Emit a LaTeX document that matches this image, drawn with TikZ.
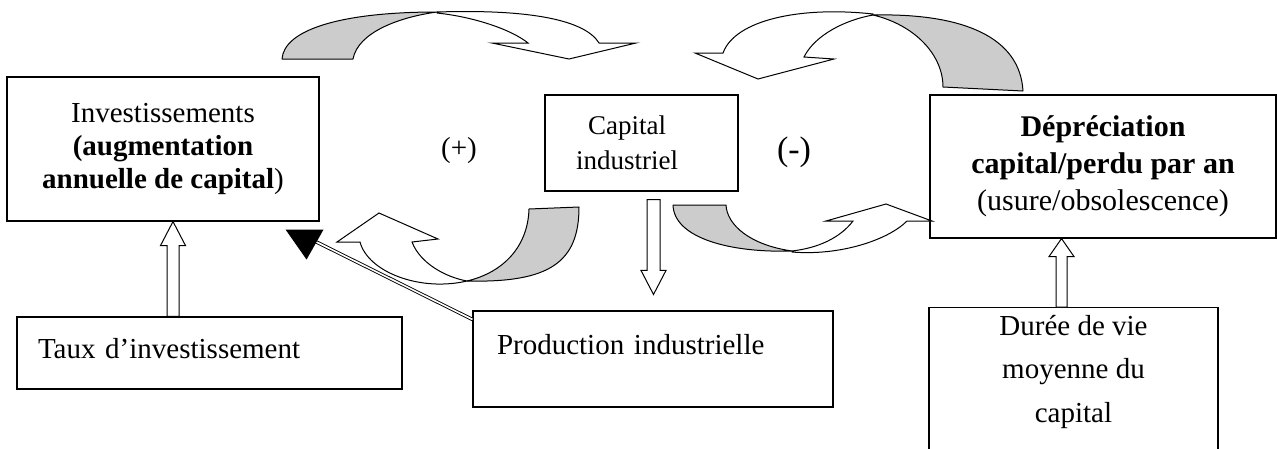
\documentclass[tikz,border=0pt]{standalone}
\usepackage{fontspec}
\setmainfont{Liberation Serif}
\usetikzlibrary{calc}
\tikzset{
  box/.style={draw, line width=1.1pt, inner sep=2pt, align=center},
  fa/.style={font=\fontsize{29}{33}\selectfont},
  hollow/.style={draw, fill=white, line width=1pt, line join=miter},
  band/.style={draw, fill=black!20, line width=1pt, line join=round},
  face/.style={draw, fill=white, line width=1pt, line join=miter},
  dbl/.style={draw, double, double distance=1.6pt, line width=0.9pt},
}
\newcommand\hollowarrow[5]{%
  \draw[hollow] ($(#1)+(-#4,0)$) -- ($(#2)+(-#4,#3)$) -- ($(#2)+(-#5,#3)$) -- (#2)
    -- ($(#2)+(#5,#3)$) -- ($(#2)+(#4,#3)$) -- ($(#1)+(#4,0)$) -- cycle;}
\begin{document}
\begin{tikzpicture}[x=1pt, y=-1pt]
\useasboundingbox (0,0) rectangle (1277,448);
\clip (0,0) rectangle (1277,448);

% boxes
\node[box, fa, minimum width=312, minimum height=144] (inv) at (163,149)
  {Investissements\\\textbf{(augmentation}\\\textbf{annuelle de capital})};
\node[box, font=\fontsize{27}{35}\selectfont, minimum width=193, minimum height=96] (cap) at (641.5,143)
  {Capital\hspace*{29pt}\\industriel\hspace*{29pt}};
\node[box, font=\fontsize{30}{37}\selectfont, minimum width=346, minimum height=143] (dep) at (1103,166.5)
  {\textbf{Dépréciation}\\\textbf{capital/perdu par an}\\(usure/obsolescence)};
\node[box, minimum width=289, minimum height=170, anchor=north,
  label={[fa, font=\fontsize{29}{43.5}\selectfont, align=center, anchor=north, inner sep=0pt, yshift=-8pt]north:Durée de vie\\moyenne du\\capital}]
  (duree) at (1073.5,307) {};
\node[box, fa, align=left, minimum height=72, text width=343, inner xsep=21pt, text depth=10pt] (taux) at (209.5,353)
  {Taux d’investissement};
\node[box, fa, align=left, minimum height=96, text width=312, inner xsep=24pt, text depth=30pt] (prod) at (653,359)
  {Production industrielle};

% loop signs
\node[fa, inner sep=0pt] (plus) at (459,151) {(+)};
\node[font=\fontsize{34}{38}\selectfont, inner sep=0pt] (minus) at (794,152) {(-)};

% straight hollow arrows
\coordinate (ax1) at (173,0);
\coordinate (ax2) at (1061.5,0);
\coordinate (ax3) at (653.5,0);
\coordinate (t1) at (ax1 |- taux.north);
\coordinate (p1) at (ax1 |- inv.south);
\hollowarrow{t1}{p1}{24}{6}{12.5}
\coordinate (t2) at (ax2 |- duree.north);
\coordinate (p2) at (ax2 |- dep.south);
\hollowarrow{t2}{p2}{18}{5.5}{12.5}
\coordinate (t3) at ($(ax3 |- cap.south)+(0,8)$);
\coordinate (p3) at ($(ax3 |- prod.north)+(0,-16)$);
\hollowarrow{t3}{p3}{-24}{6.5}{12.5}

% double-line arrow from production to investissements
\coordinate (dtail) at ($(inv.south east)+(-4,20)$);
\coordinate (trtip) at ($(inv.south east)+(-13,38)$);
\draw[dbl] ($(prod.north west)+(0,9)$) -- (dtail);
\fill (trtip) -- ++(-21,-30) -- ++(38,0) -- cycle;

% curved arrow A (top left)
\draw[band] (282,59) .. controls (284,30) and (340,12) .. (437,12)
  .. controls (400,17) and (358,32) .. (353,59) -- cycle;
\draw[face] (437,12) .. controls (530,9) and (585,20) .. (599,43) -- (636,43) -- (569,59)
  -- (492,43) -- (528,43) .. controls (512,30) and (475,17) .. (437,13) -- cycle;

% curved arrow B (top right)
\draw[band] (873,15) .. controls (965,13) and (1020,38) .. (1023,91) -- (943,87)
  .. controls (943,55) and (915,25) .. (873,15) -- cycle;
\draw[face] (873,14) .. controls (800,6) and (735,20) .. (723,53) -- (695,53) -- (758,79)
  -- (834,59) -- (804,57) .. controls (815,35) and (845,20) .. (873,15) -- cycle;

% curved arrow C (bottom left)
\draw[band] (529,209) -- (579,207) .. controls (579,262) and (550,283) .. (467,281)
  .. controls (505,272) and (528,245) .. (529,209) -- cycle;
\draw[face] (467,281) .. controls (420,292) and (368,272) .. (360,242) -- (337,242) -- (379,213)
  -- (438,239) -- (412,242) .. controls (420,263) and (445,277) .. (467,281) -- cycle;

% curved arrow D (bottom right)
\draw[band] (673,205) -- (726,205) .. controls (727,225) and (750,245) .. (792,251)
  .. controls (730,253) and (674,238) .. (673,205) -- cycle;
\draw[face] (792,252) .. controls (840,256) and (888,240) .. (907,221) -- (932,221) -- (886,204)
  -- (826,221) -- (853,221) .. controls (840,238) and (818,248) .. (792,251) -- cycle;
\end{tikzpicture}
\end{document}
